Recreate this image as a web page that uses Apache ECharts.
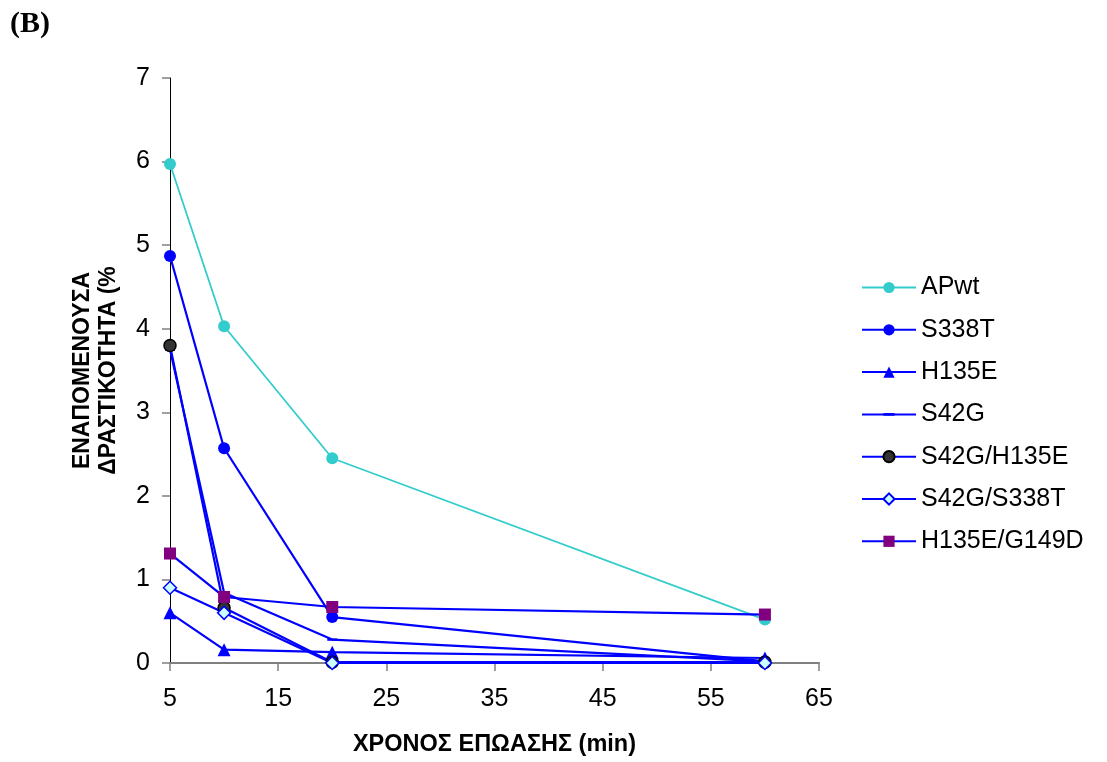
<!DOCTYPE html>
<html>
<head>
<meta charset="utf-8">
<script src="https://cdn.jsdelivr.net/npm/echarts@6/dist/echarts.min.js"></script>
<style>
  html, body { margin: 0; padding: 0; background: #fff; overflow: hidden; }
  #chart { width: 1107px; height: 762px; }
</style>
</head>
<body>
<div id="chart"></div>
<script>
// χρόνοι επώασης (min)
const times = [5, 10, 20, 60];
const seriesNames = ["APwt", "S338T", "H135E", "S42G", "S42G/H135E", "S42G/S338T", "H135E/G149D"];
// εναπομένουσα δραστικότητα (%)
const apwt = [5.97, 4.03, 2.45, 0.52];
const s338t = [4.87, 2.57, 0.55, 0.02];
const h135e = [0.6, 0.16, 0.13, 0.06];
const s42g = [3.75, 0.84, 0.28, 0.02];
const s42gH135e = [3.8, 0.66, 0.01, 0.01];
const s42gS338t = [0.9, 0.6, 0.0, 0.0];
const h135eG149d = [1.31, 0.79, 0.67, 0.58];
const yTicks = [0, 1, 2, 3, 4, 5, 6, 7];

const pairs = (vals) => vals.map((v, i) => [times[i], v]);

const chart = echarts.init(document.getElementById("chart"));
const font = "Liberation Sans, Arial, sans-serif";

// μικρή παύλα μέσα σε τετράγωνο πλαίσιο (σύμβολο του S42G)
const dash = "path://M0,0L0,0M10,10L10,10M0,3.8H10V6.2H0Z";

const mk = (name, vals, symbol, size, fill, border, lineColor, lineWidth) => ({
  name: name,
  type: "line",
  data: pairs(vals),
  symbol: symbol,
  symbolSize: size,
  showAllSymbol: true,
  itemStyle: { color: fill, borderColor: border, borderWidth: border === fill ? 0 : 1.5 },
  lineStyle: { color: lineColor, width: lineWidth },
  emphasis: { disabled: true },
  animation: false,
});

const option = {
  animation: false,
  grid: { left: 170, right: 288, top: 78, bottom: 92, containLabel: false },
  graphic: [
    {
      type: "text",
      left: 10,
      top: 9,
      style: { text: "(B)", font: "bold 30px Liberation Serif, Times New Roman, serif", fill: "#000" },
    },
  ],
  legend: {
    orient: "vertical",
    left: 856,
    top: 270,
    itemWidth: 54,
    itemHeight: 14,
    itemGap: 17.3,
    data: seriesNames,
    textStyle: { fontFamily: font, fontSize: 25, color: "#000", lineHeight: 25 },
  },
  xAxis: {
    type: "value",
    min: 5,
    max: 65,
    interval: 10,
    name: "ΧΡΟΝΟΣ ΕΠΩΑΣΗΣ (min)",
    nameLocation: "middle",
    nameGap: 70,
    nameTextStyle: { fontFamily: font, fontSize: 23.5, fontWeight: "bold", color: "#000" },
    axisLine: { show: true, onZero: false, lineStyle: { color: "#808080", width: 2 } },
    axisTick: { show: true, length: 8, lineStyle: { color: "#808080", width: 1.5 } },
    axisLabel: { fontFamily: font, fontSize: 25, color: "#000", margin: 24 },
    splitLine: { show: false },
  },
  yAxis: {
    type: "value",
    min: yTicks[0],
    max: yTicks[yTicks.length - 1],
    interval: 1,
    name: "ΕΝΑΠΟΜΕΝΟΥΣΑ\nΔΡΑΣΤΙΚΟΤΗΤΑ (%",
    nameLocation: "middle",
    nameGap: 48,
    nameRotate: 90,
    nameTextStyle: { fontFamily: font, fontSize: 23, fontWeight: "bold", color: "#000", lineHeight: 26, align: "center" },
    axisLine: { show: true, lineStyle: { color: "#000", width: 1 } },
    axisTick: { show: true, length: 8, lineStyle: { color: "#808080", width: 1.5 } },
    axisLabel: { fontFamily: font, fontSize: 25, color: "#000", margin: 20 },
    splitLine: { show: false },
  },
  series: [
    mk("APwt", apwt, "circle", 12, "#33CCCC", "#33CCCC", "#33CCCC", 1.8),
    mk("S338T", s338t, "circle", 12, "#0000FF", "#0000FF", "#0000FF", 2.2),
    mk("H135E", h135e, "triangle", 13, "#0000FF", "#0000FF", "#0000FF", 2.2),
    mk("S42G", s42g, dash, 10, "#0000FF", "#0000FF", "#0000FF", 2.2),
    mk("S42G/H135E", s42gH135e, "circle", 12, "#333333", "#000000", "#0000FF", 2.2),
    mk("S42G/S338T", s42gS338t, "diamond", 13, "#CCFFFF", "#0000FF", "#0000FF", 2.2),
    mk("H135E/G149D", h135eG149d, "rect", 12, "#800080", "#800080", "#0000FF", 2.2),
  ],
};

chart.setOption(option);
</script>
</body>
</html>
